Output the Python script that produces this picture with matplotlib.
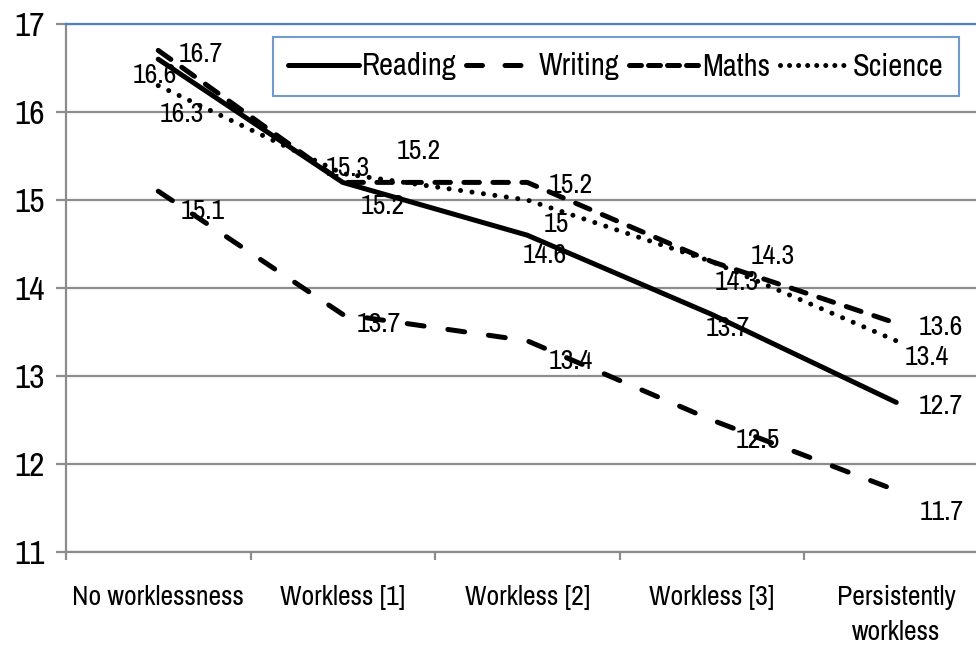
import matplotlib
matplotlib.use("Agg")
import matplotlib.pyplot as plt
from matplotlib.lines import Line2D
from matplotlib import font_manager as fm

categories = ["No worklessness", "Workless [1]", "Workless [2]", "Workless [3]", "Persistently\nworkless"]
reading = [16.6, 15.2, 14.6, 13.7, 12.7]
writing = [15.1, 13.7, 13.4, 12.5, 11.7]
maths = [16.7, 15.2, 15.2, 14.3, 13.6]
science = [16.3, 15.3, 15.0, 14.3, 13.4]
yticks = [11, 12, 13, 14, 15, 16, 17]

# pick a narrow font if available
entries = fm.fontManager.ttflist
narrow = None
for e in entries:
    if "narrow" in e.name.lower() or "condensed" in e.name.lower():
        narrow = (e.name, "normal")
        break
if narrow is None:
    for e in entries:
        if str(e.stretch).lower() in ("condensed", "semi-condensed", "extra-condensed") or \
           (isinstance(e.stretch, int) and e.stretch < 500):
            narrow = (e.name, e.stretch)
            break
if narrow is None:
    narrow = ("Liberation Sans", "normal")
plt.rcParams['font.family'] = [narrow[0], "DejaVu Sans"]
plt.rcParams['font.stretch'] = narrow[1]

W, H = 976, 645
fig = plt.figure(figsize=(W/100, H/100), dpi=100)
x0, x1 = 66, 988.5
y_top, y_bot = 24, 552
ax = fig.add_axes([x0/W, (H-y_bot)/H, (x1-x0)/W, (y_bot-y_top)/H])

xs = list(range(len(categories)))
ax.set_xlim(-0.5, len(categories)-0.5)
ax.set_ylim(11, 17)

grid_c = "#8c8c8c"
for y in yticks:
    ax.axhline(y, color=grid_c, lw=1.6, zorder=0)

lw = 3.6
series = [
    ("Reading", reading, dict(linestyle="-")),
    ("Writing", writing, dict(linestyle=(0, (3.4, 4.8)))),
    ("Maths", maths, dict(linestyle=(0, (3.1, 2.7)))),
    ("Science", science, dict(linestyle=(0, (0.01, 2.3)))),
]
handles = []
for name, vals, st in series:
    l, = ax.plot(xs, vals, color="black", lw=lw, solid_capstyle="round",
                 dash_capstyle="round", label=name, zorder=3, **st)
    handles.append(l)

offs = {
    "Reading": [(-3, -16), (40, -24), (18, -20), (16, -14), (45, -4)],
    "Writing": [(44, -20), (36, -10), (44, -21), (46, -21), (45, -22)],
    "Maths": [(43, -4), (76, 31), (44, -3), (61, 5), (45, -4)],
    "Science": [(24, -29), (5, 5), (29, -25), (25, -21), (31, -17)],
}
for name, vals, _ in series:
    for i, v in enumerate(vals):
        dx, dy = offs[name][i]
        ax.annotate(f"{v:g}", (i, v), xytext=(dx, dy), textcoords="offset pixels",
                    ha="center", va="center", fontsize=20, zorder=4)

ax.set_yticks(yticks)
ax.set_yticklabels([str(y) for y in yticks], fontsize=24)
ax.set_xticks(xs)
ax.set_xticklabels(categories, fontsize=20, linespacing=1.5)
ax.set_xticks([i + 0.5 for i in range(-1, len(categories))], minor=True)
ax.tick_params(axis="x", which="major", length=0, pad=24)
ax.tick_params(axis="x", which="minor", length=6, width=1.6, color=grid_c)
ax.tick_params(axis="y", length=7, width=1.6, color=grid_c, pad=8)

ax.spines["right"].set_visible(False)
ax.spines["top"].set_color("#4f81bd")
ax.spines["top"].set_linewidth(1.6)
for s in ["left", "bottom"]:
    ax.spines[s].set_color(grid_c)
    ax.spines[s].set_linewidth(1.6)

leg_handles = [Line2D([0], [0], color="black", lw=lw, dash_capstyle="round",
                      solid_capstyle="round") for _ in handles]
leg_handles[1].set_linestyle((0, (3.2, 4.5)))
leg_handles[2].set_linestyle((0, (2.4, 1.4)))
leg_handles[3].set_linestyle((0, (0.01, 1.8)))
leg = fig.legend(leg_handles, [s[0] for s in series], loc="center",
                 bbox_to_anchor=((276+956)/2/W, 1-(35+98)/2/H),
                 ncol=4, fontsize=22, frameon=True, fancybox=False,
                 handlelength=2.3, handletextpad=0.1, columnspacing=0.3,
                 borderpad=0.5)
leg.get_frame().set_edgecolor("#4f81bd")
leg.get_frame().set_linewidth(1.5)

fig.savefig("out.png", dpi=100)
